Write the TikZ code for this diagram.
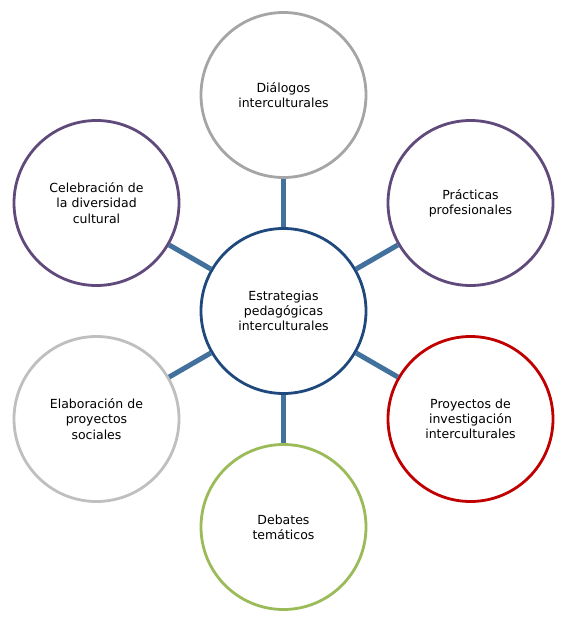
\documentclass[tikz,border=0pt]{standalone}
\usepackage{fontspec}
\setmainfont{DejaVu Sans}
\definecolor{cCenter}{HTML}{1F497D}
\definecolor{cLink}{HTML}{41719C}
\definecolor{cGray}{HTML}{A5A5A5}
\definecolor{cPurple}{HTML}{604A7B}
\definecolor{cRed}{HTML}{C00000}
\definecolor{cGreen}{HTML}{9BBB59}
\definecolor{cLight}{HTML}{BFBFBF}
\tikzset{
  bubble/.style={circle, draw, fill=white, line width=2.8pt, minimum size=165pt, inner sep=0pt,
    align=center, text width=130pt, font=\fontsize{12.5pt}{15.2pt}\selectfont, text=black},
  link/.style={draw=cLink, line width=5pt}
}
\begin{document}
\begin{tikzpicture}[x=1pt,y=-1pt]
\useasboundingbox (0,0) rectangle (564,620);
\node[bubble, draw=cCenter] (c) at (283.5,311) {Estrategias\\pedagógicas\\interculturales};
\node[bubble, draw=cGray] (n1) at (283.5,95) {Diálogos\\interculturales};
\node[bubble, draw=cPurple] (n2) at (470.5,203) {Prácticas\\profesionales};
\node[bubble, draw=cRed] (n3) at (470.5,419) {Proyectos de\\investigación\\interculturales};
\node[bubble, draw=cGreen] (n4) at (283.5,527) {Debates\\temáticos};
\node[bubble, draw=cLight] (n5) at (96.5,419) {Elaboración de\\proyectos\\sociales};
\node[bubble, draw=cPurple] (n6) at (96.5,203) {Celebración de\\la diversidad\\cultural};
\foreach \n in {n1,n2,n3,n4,n5,n6} \draw[link] (c) -- (\n);
\end{tikzpicture}
\end{document}
